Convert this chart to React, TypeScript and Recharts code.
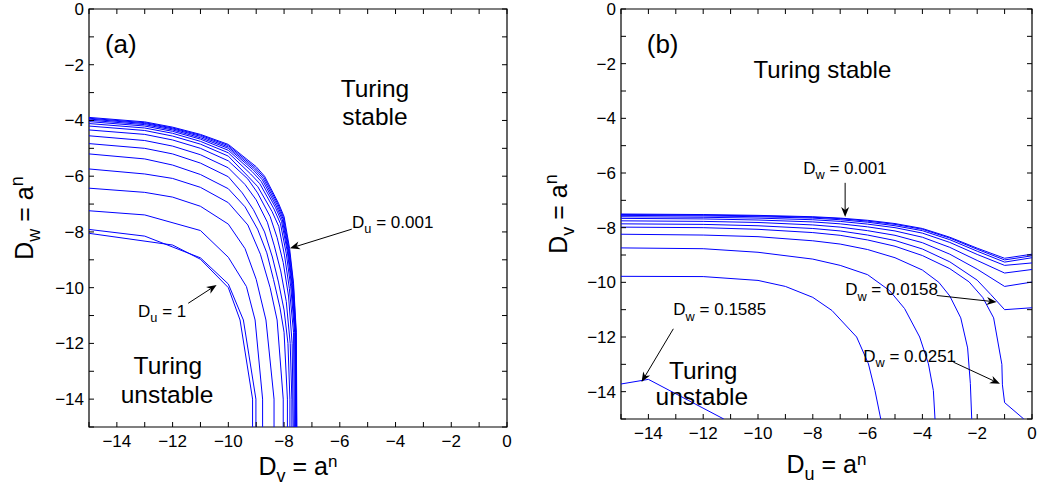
import React from 'react';
import { LineChart, Line, XAxis, YAxis, ReferenceArea, ReferenceDot, ReferenceLine } from 'recharts';

type Pt = [number, number];

// ---------- Panel (a): D_w vs D_v, curves for D_u = 0.001 ... 1 ----------
const aDu0001: Pt[] = [[-15,-3.89],[-13,-4.05],[-12,-4.24],[-11,-4.5],[-10,-4.86],[-9,-5.66],[-8.7,-6.0],[-8.2,-6.97],[-8,-7.45],[-7.8,-8.6],[-7.66,-9.84],[-7.56,-11.6],[-7.54,-15]];
const aDu0016: Pt[] = [[-15,-3.92],[-13,-4.08],[-12,-4.27],[-11,-4.53],[-10,-4.9],[-9.03,-5.7],[-8.72,-6.04],[-8.22,-7.0],[-8.02,-7.48],[-7.82,-8.62],[-7.67,-9.86],[-7.57,-11.6],[-7.55,-15]];
const aDu0025: Pt[] = [[-15,-3.95],[-13,-4.11],[-12,-4.3],[-11,-4.57],[-10,-4.95],[-9.06,-5.74],[-8.75,-6.08],[-8.25,-7.03],[-8.04,-7.52],[-7.84,-8.65],[-7.69,-9.88],[-7.58,-11.6],[-7.56,-15]];
const aDu0040: Pt[] = [[-15,-3.99],[-13,-4.15],[-12,-4.34],[-11,-4.62],[-10,-5.0],[-9.1,-5.78],[-8.78,-6.13],[-8.28,-7.07],[-8.06,-7.57],[-7.86,-8.68],[-7.71,-9.9],[-7.59,-11.6],[-7.57,-15]];
const aDu0063: Pt[] = [[-15,-4.04],[-13,-4.2],[-12,-4.39],[-11,-4.67],[-10,-5.07],[-9.14,-5.84],[-8.82,-6.19],[-8.31,-7.12],[-8.09,-7.62],[-7.88,-8.72],[-7.73,-9.93],[-7.6,-11.6],[-7.58,-15]];
const aDu0100: Pt[] = [[-15,-4.11],[-13,-4.27],[-12,-4.46],[-11,-4.75],[-10,-5.16],[-9.2,-5.92],[-8.87,-6.27],[-8.36,-7.18],[-8.13,-7.7],[-7.92,-8.78],[-7.76,-9.97],[-7.62,-11.6],[-7.6,-15]];
const aDu0158: Pt[] = [[-15,-4.2],[-13,-4.36],[-12,-4.56],[-11,-4.85],[-10,-5.28],[-9.28,-6.02],[-8.94,-6.38],[-8.43,-7.27],[-8.19,-7.8],[-7.98,-8.86],[-7.81,-10.03],[-7.66,-11.6],[-7.63,-15]];
const aDu0251: Pt[] = [[-15,-4.34],[-13,-4.5],[-12,-4.7],[-11,-5.0],[-10,-5.45],[-9.3,-6.1],[-8.95,-6.6],[-8.5,-7.45],[-8.25,-8.2],[-8.03,-9.1],[-7.84,-10.3],[-7.71,-12],[-7.67,-15]];
const aDu0398: Pt[] = [[-15,-4.55],[-13,-4.72],[-12,-4.92],[-11,-5.23],[-10,-5.7],[-9.4,-6.3],[-9.0,-6.85],[-8.6,-7.65],[-8.35,-8.5],[-8.12,-9.4],[-7.92,-10.5],[-7.78,-12],[-7.72,-14],[-7.72,-15]];
const aDu0631: Pt[] = [[-15,-4.83],[-13,-5.0],[-12,-5.2],[-11,-5.53],[-10,-6.02],[-9.5,-6.6],[-9.1,-7.2],[-8.7,-8.0],[-8.42,-8.9],[-8.2,-9.8],[-8.0,-10.8],[-7.86,-12],[-7.79,-14],[-7.79,-15]];
const aDu1000: Pt[] = [[-15,-5.2],[-13,-5.38],[-12,-5.6],[-11,-5.94],[-10,-6.45],[-9.4,-7.1],[-8.95,-7.9],[-8.62,-8.75],[-8.38,-9.7],[-8.15,-10.7],[-8.0,-11.6],[-7.88,-14],[-7.88,-15]];
const aDu1585: Pt[] = [[-15,-5.74],[-13,-5.92],[-12,-6.08],[-11,-6.4],[-10,-6.95],[-9.3,-7.75],[-8.85,-8.8],[-8.5,-10.0],[-8.25,-11.16],[-8.03,-14],[-8.03,-15]];
const aDu2512: Pt[] = [[-15,-6.43],[-13,-6.58],[-12,-6.75],[-11,-7.08],[-10,-7.72],[-9.4,-8.6],[-9.0,-9.7],[-8.65,-11.16],[-8.36,-14],[-8.36,-15]];
const aDu3981: Pt[] = [[-15,-7.24],[-13,-7.39],[-11,-7.95],[-10,-8.91],[-9.35,-9.96],[-9.04,-11.16],[-8.77,-14],[-8.77,-15]];
const aDu6310: Pt[] = [[-15,-7.91],[-13,-8.15],[-11,-8.93],[-10,-9.87],[-9.46,-11.16],[-9.01,-14],[-9.01,-15]];
const aDu1: Pt[] = [[-15,-8.05],[-12,-8.47],[-11,-8.98],[-10,-10.0],[-9.58,-11.16],[-9.13,-14],[-9.13,-15]];

const panelACurves: Pt[][] = [aDu0001, aDu0016, aDu0025, aDu0040, aDu0063, aDu0100, aDu0158, aDu0251, aDu0398, aDu0631, aDu1000, aDu1585, aDu2512, aDu3981, aDu6310, aDu1];

// ---------- Panel (b): D_v vs D_u, curves for D_w = 0.001 ... 0.1585 ----------
const bDw0010: Pt[] = [[-15,-7.5],[-12,-7.52],[-10,-7.55],[-8,-7.6],[-7,-7.65],[-6,-7.73],[-5,-7.85],[-4,-8.03],[-3,-8.35],[-2,-8.75],[-1,-9.12],[0,-8.97]];
const bDw0016: Pt[] = [[-15,-7.52],[-12,-7.54],[-10,-7.57],[-8,-7.62],[-7,-7.67],[-6,-7.76],[-5,-7.88],[-4,-8.06],[-3,-8.38],[-2,-8.79],[-1,-9.18],[0,-9.03]];
const bDw0025: Pt[] = [[-15,-7.55],[-12,-7.57],[-10,-7.6],[-8,-7.65],[-7,-7.71],[-6,-7.8],[-5,-7.93],[-4,-8.11],[-3,-8.44],[-2,-8.86],[-1,-9.26],[0,-9.1]];
const bDw0040: Pt[] = [[-15,-7.6],[-12,-7.62],[-10,-7.65],[-8,-7.71],[-7,-7.77],[-6,-7.87],[-5,-8.0],[-4,-8.2],[-3,-8.54],[-2,-8.98],[-1,-9.38],[0,-9.29]];
const bDw0063: Pt[] = [[-15,-7.66],[-12,-7.68],[-10,-7.72],[-8,-7.79],[-7,-7.86],[-6,-7.97],[-5,-8.12],[-4,-8.35],[-3,-8.72],[-2,-9.2],[-1,-9.66],[0,-9.53]];
const bDw0100: Pt[] = [[-15,-7.75],[-12,-7.77],[-10,-7.81],[-8,-7.9],[-7,-7.98],[-6,-8.11],[-5,-8.28],[-4,-8.55],[-3,-8.97],[-2,-9.52],[-1,-10.15],[0,-9.99]];
const bDw0158: Pt[] = [[-15,-7.86],[-12,-7.88],[-10,-7.93],[-8,-8.03],[-7,-8.12],[-6,-8.27],[-5,-8.47],[-4,-8.78],[-3,-9.25],[-2,-9.92],[-1.5,-10.45],[-1,-11.0],[0,-10.93]];
const bDw0251: Pt[] = [[-15,-7.98],[-12,-8.0],[-10,-8.06],[-8,-8.18],[-7,-8.28],[-6,-8.45],[-5,-8.68],[-4,-9.02],[-3,-9.5],[-2.3,-9.98],[-1.8,-10.55],[-1.4,-11.3],[-1.1,-13.0],[-1.08,-13.75],[-1.0,-14.4],[-0.3,-15]];
const bDw0398: Pt[] = [[-15,-8.24],[-12,-8.27],[-10,-8.33],[-8,-8.48],[-7,-8.6],[-6,-8.8],[-5,-9.1],[-4,-9.55],[-3.4,-10.0],[-3,-10.5],[-2.6,-11.3],[-2.35,-12.4],[-2.25,-13.7],[-2.2,-15]];
const bDw0631: Pt[] = [[-15,-8.74],[-12,-8.77],[-10,-8.9],[-8,-9.15],[-7,-9.38],[-6,-9.72],[-5.2,-10.3],[-4.65,-10.96],[-4.1,-12.0],[-3.78,-12.98],[-3.6,-13.96],[-3.54,-15]];
const bDw1000: Pt[] = [[-15,-9.78],[-12,-9.79],[-10,-9.93],[-9,-10.15],[-8,-10.55],[-7.3,-11.03],[-6.4,-12.0],[-5.97,-12.98],[-5.73,-13.96],[-5.52,-15]];
const bDw1585: Pt[] = [[-15,-13.72],[-14,-13.55],[-11.25,-15]];

const panelBCurves: Pt[][] = [bDw0010, bDw0016, bDw0025, bDw0040, bDw0063, bDw0100, bDw0158, bDw0251, bDw0398, bDw0631, bDw1000, bDw1585];

// ---------- ticks ----------
const axisTicks: number[] = [-15, -14, -13, -12, -11, -10, -9, -8, -7, -6, -5, -4, -3, -2, -1, 0];
const labelledTicks: number[] = [-14, -12, -10, -8, -6, -4, -2, 0];

const FONT = '"Liberation Sans", Arial, Helvetica, sans-serif';
const BLUE = '#0000ff';
const TICK_FS = 17;
const fmt = (v: number) => (v < 0 ? '\u2212' + Math.abs(v) : String(v));

function makeXTick(plotH: number, labelDy: number) {
  return (props: any) => {
    const { x, y, payload } = props;
    const v = payload.value;
    return (
      <g>
        <line x1={x} y1={y} x2={x} y2={y - 5} stroke="#000" strokeWidth={1} />
        <line x1={x} y1={y - plotH} x2={x} y2={y - plotH + 5} stroke="#000" strokeWidth={1} />
        {labelledTicks.includes(v) && (
          <text x={x} y={y + labelDy} textAnchor="middle" fontSize={TICK_FS} fontFamily={FONT} fill="#000">{fmt(v)}</text>
        )}
      </g>
    );
  };
}

function makeYTick(plotW: number) {
  return (props: any) => {
    const { x, y, payload } = props;
    const v = payload.value;
    return (
      <g>
        <line x1={x} y1={y} x2={x + 5} y2={y} stroke="#000" strokeWidth={1} />
        <line x1={x + plotW} y1={y} x2={x + plotW - 5} y2={y} stroke="#000" strokeWidth={1} />
        {labelledTicks.includes(v) && (
          <text x={x - 5} y={y + 6} textAnchor="end" fontSize={TICK_FS} fontFamily={FONT} fill="#000">{fmt(v)}</text>
        )}
      </g>
    );
  };
}

const Arrow = (p: any) => {
  const { x1, y1, x2, y2 } = p;
  if (x1 == null || x2 == null) return null;
  const ang = Math.atan2(y2 - y1, x2 - x1);
  const L = 10, W = 4;
  const bx = x2 - L * Math.cos(ang), by = y2 - L * Math.sin(ang);
  const nx = -Math.sin(ang), ny = Math.cos(ang);
  const mx = x2 - 0.7 * L * Math.cos(ang), my = y2 - 0.7 * L * Math.sin(ang);
  return (
    <g>
      <line x1={x1} y1={y1} x2={mx} y2={my} stroke="#000" strokeWidth={1} />
      <polygon points={`${x2},${y2} ${bx + nx * W},${by + ny * W} ${mx},${my} ${bx - nx * W},${by - ny * W}`} fill="#000" />
    </g>
  );
};

const subLabel = (main: string, sub: string, rest: string, size: number) => (p: any) => (
  <text x={p.cx} y={p.cy} fontSize={size} fontFamily={FONT} fill="#000">
    <tspan>{main}</tspan>
    <tspan fontSize={size * 0.75} dy={size * 0.3}>{sub}</tspan>
    <tspan dy={-size * 0.3}>{rest}</tspan>
  </text>
);

const plainLabel = (txt: string, size: number, anchor: string) => (p: any) => (
  <text x={p.cx} y={p.cy} fontSize={size} fontFamily={FONT} fill="#000" textAnchor={anchor}>{txt}</text>
);

function axisLabelX(sub: string, dy: number) {
  return (props: any) => {
    const vb = props.viewBox || {};
    const cx = vb.x + vb.width / 2;
    const by = vb.y + dy;
    return (
      <text x={cx} y={by} textAnchor="middle" fontSize={25} fontFamily={FONT} fill="#000">
        <tspan>D</tspan>
        <tspan fontSize={18} dy={7}>{sub}</tspan>
        <tspan dy={-7}> = a</tspan>
        <tspan fontSize={17} dy={-8}>n</tspan>
      </text>
    );
  };
}

function axisLabelY(sub: string, dx: number) {
  return (props: any) => {
    const vb = props.viewBox || {};
    const bx = vb.x + vb.width - dx;
    const cy = vb.y + vb.height / 2;
    return (
      <text x={bx} y={cy} textAnchor="middle" fontSize={25} fontFamily={FONT} fill="#000" transform={`rotate(-90, ${bx}, ${cy})`}>
        <tspan>D</tspan>
        <tspan fontSize={18} dy={7}>{sub}</tspan>
        <tspan dy={-7}> = a</tspan>
        <tspan fontSize={18} dy={-10}>n</tspan>
      </text>
    );
  };
}

const toData = (c: Pt[]) => c.map(([x, y]) => ({ x, y }));

export default function App() {
  const aPlotW = 418, aPlotH = 418;
  const bPlotW = 411, bPlotH = 410;
  return (
    <div style={{ position: 'absolute', left: 0, top: 0, width: 1037, height: 490, background: '#fff' }}>
      <div style={{ position: 'absolute', left: 0, top: 0 }}>
        <LineChart width={520} height={490} margin={{ top: 9, right: 13, bottom: 23, left: 39 }}>
          <XAxis type="number" dataKey="x" domain={[-15, 0]} ticks={axisTicks} interval={0} allowDataOverflow
            axisLine={false} tickLine={false} tickSize={0} tickMargin={0} height={40}
            tick={makeXTick(aPlotH, 20)} label={{ content: axisLabelX('v', 48) } as any} />
          <YAxis type="number" dataKey="y" domain={[-15, 0]} ticks={axisTicks} interval={0} allowDataOverflow
            axisLine={false} tickLine={false} tickSize={0} tickMargin={0} width={50}
            tick={makeYTick(aPlotW)} label={{ content: axisLabelY('w', 56) } as any} />
          <ReferenceArea x1={-15} x2={0} y1={-15} y2={0} fill="none" fillOpacity={0} stroke="#000" strokeWidth={1.2} ifOverflow="visible" />
          {panelACurves.map((c, i) => (
            <Line key={'a' + i} data={toData(c)} dataKey="y" type="linear" stroke={BLUE} strokeWidth={1} dot={false} isAnimationActive={false} />
          ))}
          <ReferenceDot x={-14.43} y={-1.58} r={1} ifOverflow="visible" shape={plainLabel('(a)', 26, 'start')} />
          <ReferenceDot x={-4.74} y={-3.14} r={1} ifOverflow="visible" shape={plainLabel('Turing', 24.5, 'middle')} />
          <ReferenceDot x={-4.74} y={-4.16} r={1} ifOverflow="visible" shape={plainLabel('stable', 24.5, 'middle')} />
          <ReferenceDot x={-12.17} y={-13.1} r={1} ifOverflow="visible" shape={plainLabel('Turing', 24.5, 'middle')} />
          <ReferenceDot x={-12.2} y={-14.14} r={1} ifOverflow="visible" shape={plainLabel('unstable', 24.5, 'middle')} />
          <ReferenceDot x={-5.56} y={-7.86} r={1} ifOverflow="visible" shape={subLabel('D', 'u', ' = 0.001', 17)} />
          <ReferenceLine segment={[{ x: -5.57, y: -7.9 }, { x: -7.79, y: -8.59 }]} ifOverflow="visible" shape={Arrow} />
          <ReferenceDot x={-13.24} y={-11.05} r={1} ifOverflow="visible" shape={subLabel('D', 'u', ' = 1', 17)} />
          <ReferenceLine segment={[{ x: -11.44, y: -10.56 }, { x: -10.42, y: -9.9 }]} ifOverflow="visible" shape={Arrow} />
        </LineChart>
      </div>
      <div style={{ position: 'absolute', left: 520, top: 0 }}>
        <LineChart width={517} height={490} margin={{ top: 9, right: 5, bottom: 31, left: 51 }}>
          <XAxis type="number" dataKey="x" domain={[-15, 0]} ticks={axisTicks} interval={0} allowDataOverflow
            axisLine={false} tickLine={false} tickSize={0} tickMargin={0} height={40}
            tick={makeXTick(bPlotH, 20)} label={{ content: axisLabelX('u', 54) } as any} />
          <YAxis type="number" dataKey="y" domain={[-15, 0]} ticks={axisTicks} interval={0} allowDataOverflow
            axisLine={false} tickLine={false} tickSize={0} tickMargin={0} width={50}
            tick={makeYTick(bPlotW)} label={{ content: axisLabelY('v', 54) } as any} />
          <ReferenceArea x1={-15} x2={0} y1={-15} y2={0} fill="none" fillOpacity={0} stroke="#000" strokeWidth={1.2} ifOverflow="visible" />
          {panelBCurves.map((c, i) => (
            <Line key={'b' + i} data={toData(c)} dataKey="y" type="linear" stroke={BLUE} strokeWidth={1} dot={false} isAnimationActive={false} />
          ))}
          <ReferenceDot x={-14.06} y={-1.61} r={1} ifOverflow="visible" shape={plainLabel('(b)', 26, 'start')} />
          <ReferenceDot x={-7.65} y={-2.53} r={1} ifOverflow="visible" shape={plainLabel('Turing stable', 24, 'middle')} />
          <ReferenceDot x={-12.0} y={-13.52} r={1} ifOverflow="visible" shape={plainLabel('Turing', 24.5, 'middle')} />
          <ReferenceDot x={-12.05} y={-14.5} r={1} ifOverflow="visible" shape={plainLabel('unstable', 24.5, 'middle')} />
          <ReferenceDot x={-8.35} y={-6.02} r={1} ifOverflow="visible" shape={subLabel('D', 'w', ' = 0.001', 17)} />
          <ReferenceLine segment={[{ x: -6.82, y: -6.36 }, { x: -6.82, y: -7.61 }]} ifOverflow="visible" shape={Arrow} />
          <ReferenceDot x={-6.82} y={-10.48} r={1} ifOverflow="visible" shape={subLabel('D', 'w', ' = 0.0158', 17)} />
          <ReferenceLine segment={[{ x: -3.48, y: -10.48 }, { x: -1.29, y: -10.72 }]} ifOverflow="visible" shape={Arrow} />
          <ReferenceDot x={-6.16} y={-12.92} r={1} ifOverflow="visible" shape={subLabel('D', 'w', ' = 0.0251', 17)} />
          <ReferenceLine segment={[{ x: -2.87, y: -12.92 }, { x: -1.17, y: -13.71 }]} ifOverflow="visible" shape={Arrow} />
          <ReferenceDot x={-13.09} y={-11.21} r={1} ifOverflow="visible" shape={subLabel('D', 'w', ' = 0.1585', 17)} />
          <ReferenceLine segment={[{ x: -13.09, y: -11.7 }, { x: -14.25, y: -13.65 }]} ifOverflow="visible" shape={Arrow} />
        </LineChart>
      </div>
    </div>
  );
}
